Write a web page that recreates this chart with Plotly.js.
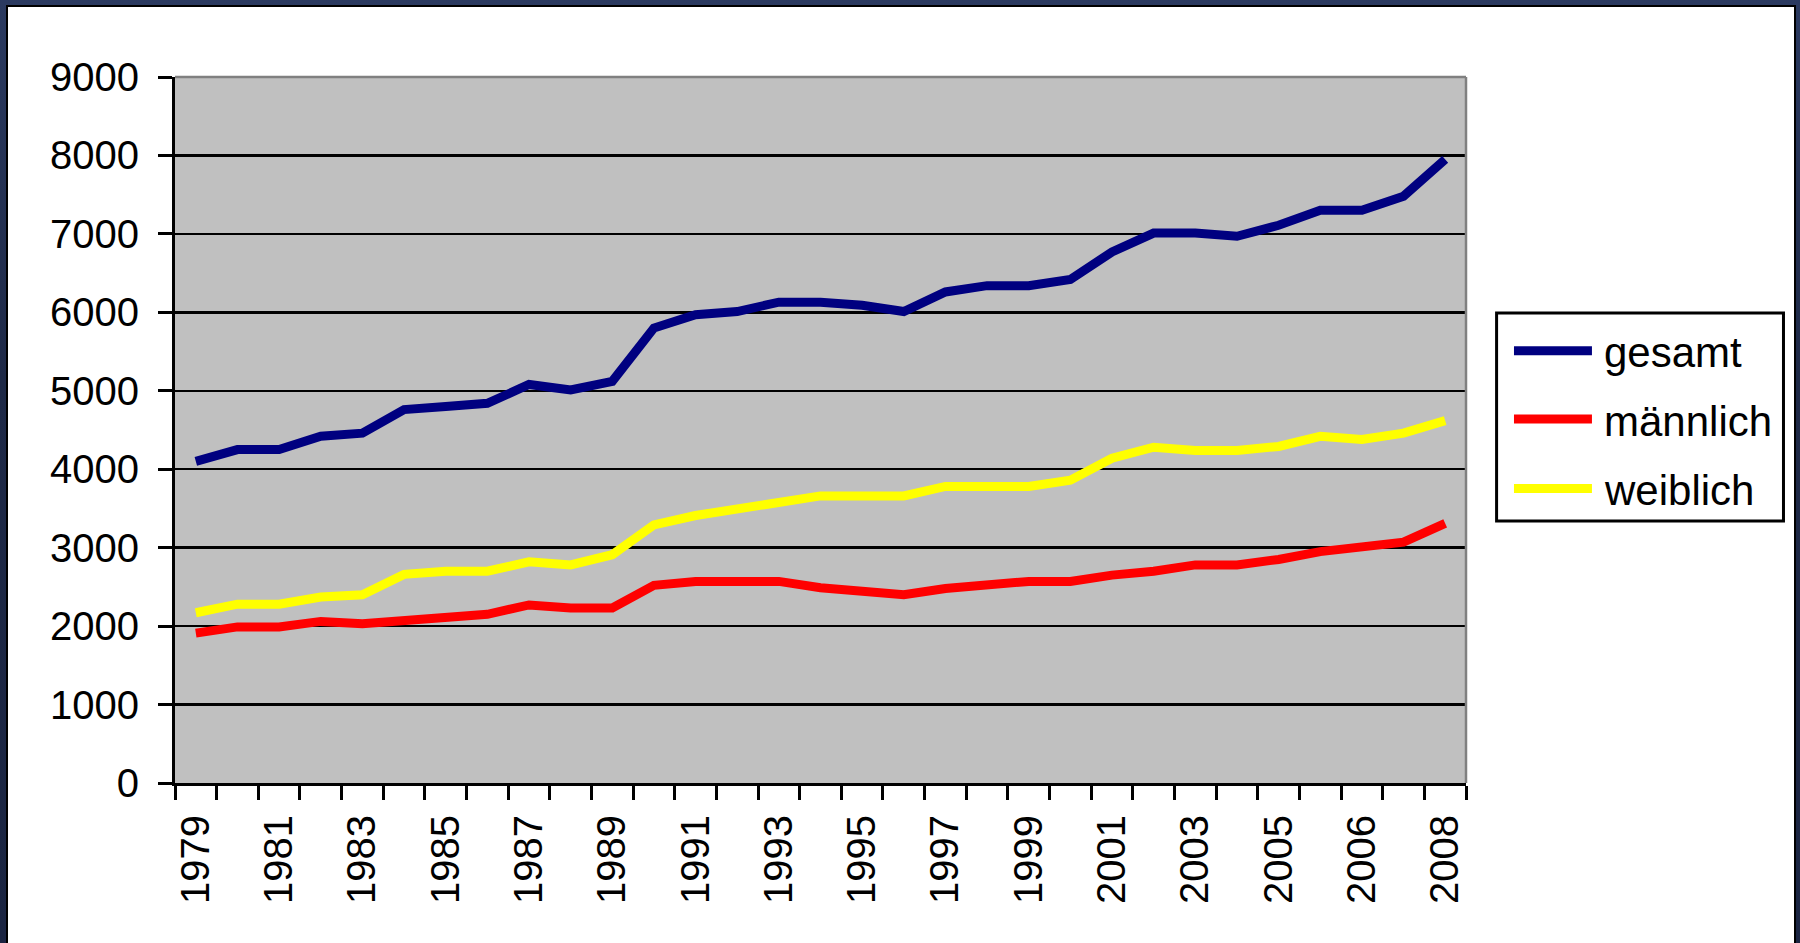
<!DOCTYPE html>
<html>
<head>
<meta charset="utf-8">
<script src="https://cdn.plot.ly/plotly-3.0.1.min.js"></script>
<style>
  html, body { margin: 0; padding: 0; }
  body { width: 1800px; height: 943px; overflow: hidden; position: relative;
         background: linear-gradient(180deg, #2b3a60 0%, #1e2947 40%, #1b2542 100%); }
  #frame { position: absolute; left: 6px; top: 5px; width: 1790px; height: 950px;
           box-sizing: border-box; border: 2px solid #000; background: #fff; }
  #chart { position: absolute; left: 8px; top: 7px; width: 1786px; height: 936px; }
</style>
</head>
<body>
<div id="frame"></div>
<div id="chart"></div>
<script>
// ---- data ----
const years = ['1979','1980','1981','1982','1983','1984','1985','1986','1987','1988',
               '1989','1990','1991','1992','1993','1994','1995','1996','1997','1998',
               '1999','2000','2001','2002','2003','2004','2005','2005','2006','2007','2008'];
const gesamt   = [4100,4250,4250,4420,4460,4760,4800,4840,5080,5010,
                  5120,5800,5970,6010,6130,6130,6090,6010,6260,6340,
                  6340,6420,6770,7010,7010,6970,7110,7300,7300,7480,7950];
const maennlich = [1910,1990,1990,2060,2030,2070,2110,2150,2270,2230,
                   2230,2520,2570,2570,2570,2490,2450,2400,2480,2530,
                   2570,2570,2650,2700,2780,2780,2850,2950,3000,3070,3310];
const weiblich = [2170,2280,2280,2370,2400,2660,2700,2700,2820,2780,
                  2910,3290,3410,3500,3590,3660,3660,3660,3780,3780,
                  3780,3860,4140,4280,4240,4240,4290,4420,4380,4460,4620];
const seriesNames = ['gesamt', 'männlich', 'weiblich'];
const yTicks = [0,1000,2000,3000,4000,5000,6000,7000,8000,9000];

// ---- layout geometry (pixels in chart div) ----
const W = 1786, H = 936;
const M = {l: 166.5, r: 328, t: 70, b: 160};
const PW = W - M.l - M.r, PH = H - M.t - M.b;
const px = x => (x - M.l) / PW;
const py = y => (H - M.b - y) / PH;

const colors = ['#000080', '#ff0000', '#ffff00'];
const font = 'Liberation Sans, Arial, sans-serif';

const idx = years.map((_, i) => i);
const labelIdx = idx.filter(i => i % 2 === 0);
const allSeries = [gesamt, maennlich, weiblich];

const traces = allSeries.map((vals, k) => ({
  type: 'scatter', mode: 'lines', x: idx, y: vals, name: seriesNames[k],
  line: {color: colors[k], width: 9}, showlegend: false, hoverinfo: 'x+y'
}));

// custom legend
const shapes = [
  {type: 'line', xref: 'paper', yref: 'paper', x0: 0, x1: 1, y0: 1, y1: 1,
   line: {color: '#808080', width: 2.5}, layer: 'above'},
  {type: 'line', xref: 'paper', yref: 'paper', x0: 1, x1: 1, y0: 0, y1: 1,
   line: {color: '#808080', width: 2.5}, layer: 'above'},
  {type: 'rect', xref: 'paper', yref: 'paper', x0: px(1488.6), x1: px(1775.6), y0: py(514), y1: py(306),
   line: {color: '#000', width: 3}, fillcolor: '#fff', layer: 'above'}
];
const legY = [343.7, 412, 481.4];
const annotations = [];
seriesNames.forEach((n, k) => {
  shapes.push({type: 'line', xref: 'paper', yref: 'paper', x0: px(1506), x1: px(1584),
               y0: py(legY[k]), y1: py(legY[k]), line: {color: colors[k], width: 9}, layer: 'above'});
  annotations.push({xref: 'paper', yref: 'paper', x: px(1594), y: py(legY[k] + 2),
                    xanchor: 'left', yanchor: 'middle', showarrow: false, text: n,
                    font: {family: font, size: 42, color: '#000'}});
});

const layout = {
  width: W, height: H,
  margin: M,
  paper_bgcolor: 'rgba(0,0,0,0)',
  plot_bgcolor: '#c0c0c0',
  showlegend: false,
  xaxis: {
    type: 'linear', range: [-0.5, years.length - 0.5], fixedrange: true,
    tickmode: 'array', tickvals: labelIdx, ticktext: labelIdx.map(i => years[i]),
    ticks: '', tickangle: -90, ticklabelstandoff: 13,
    tickfont: {family: font, size: 40, color: '#000'},
    showgrid: false, zeroline: false,
    showline: true, linecolor: '#000', linewidth: 3,
    minor: {tickmode: 'array', tickvals: idx.concat([years.length]).map(i => i - 0.5),
            ticks: 'outside', ticklen: 14, tickwidth: 3, tickcolor: '#000', showgrid: false}
  },
  yaxis: {
    range: [0, 9000], fixedrange: true,
    tickmode: 'array', tickvals: yTicks, ticktext: yTicks.map(String),
    ticks: 'outside', ticklen: 14, tickwidth: 3, tickcolor: '#000',
    ticklabelstandoff: 11,
    tickfont: {family: font, size: 40, color: '#000'},
    showgrid: true, gridcolor: '#000', gridwidth: 2.5,
    zeroline: false, showline: true, linecolor: '#000', linewidth: 3
  },
  shapes: shapes,
  annotations: annotations
};

Plotly.newPlot('chart', traces, layout, {displayModeBar: false, staticPlot: true});
</script>
</body>
</html>
